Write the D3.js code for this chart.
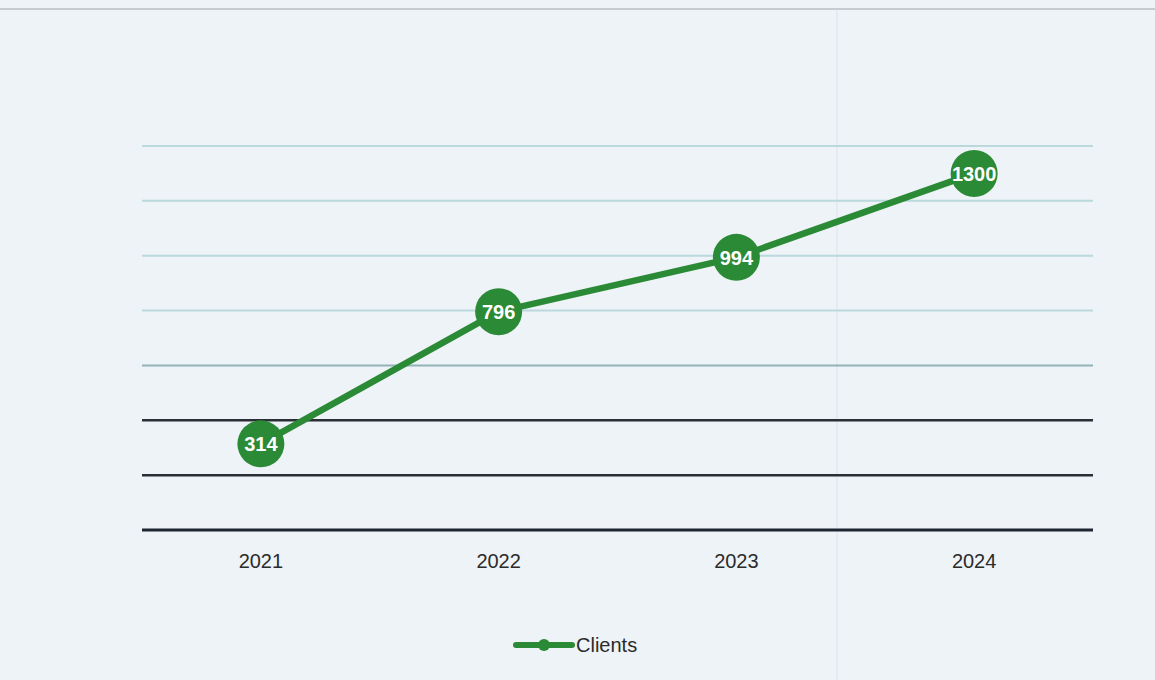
<!DOCTYPE html>
<html>
<head>
<meta charset="utf-8">
<script src="https://cdn.jsdelivr.net/npm/d3@7"></script>
<style>
  html, body { margin: 0; padding: 0; background: #eef3f7; }
  svg { display: block; }
</style>
</head>
<body>
<svg id="chart" width="1155" height="680"></svg>
<script>
const categories = ["2021", "2022", "2023", "2024"];
const clients = [314, 796, 994, 1300];
const seriesName = "Clients";
const yTicks = [0, 200, 400, 600, 800, 1000, 1200, 1400];

const W = 1155, H = 680;
const svg = d3.select("#chart");

// paper background
svg.append("rect").attr("width", W).attr("height", H).attr("fill", "#eef3f7");
svg.append("line").attr("x1", 0).attr("x2", W).attr("y1", 9).attr("y2", 9)
  .attr("stroke", "#b9bec3").attr("stroke-width", 1.5);
svg.append("line").attr("x1", 837).attr("x2", 837).attr("y1", 10).attr("y2", 680)
  .attr("stroke", "#e2e8ee").attr("stroke-width", 1.5);

const x = d3.scaleBand().domain(categories).range([142, 1093]);
const y = d3.scaleLinear().domain([0, 1400]).range([530, 146]);

// gridlines (scan shows top lines faint teal, lower ones dark)
const gridColor = v => v === 0 ? "#1f2633" : v <= 400 ? "#2a2f36" : v === 600 ? "#8fb3b6" : "#b9d9dc";
const gridWidth = v => v === 0 ? 3.2 : v <= 400 ? 2.5 : 2;
svg.append("g").selectAll("line").data(yTicks).join("line")
  .attr("x1", 142).attr("x2", 1093)
  .attr("y1", d => y(d)).attr("y2", d => y(d))
  .attr("stroke", gridColor).attr("stroke-width", gridWidth);

// x axis labels
const xAxis = d3.axisBottom(x).tickSize(0).tickPadding(24);
const gx = svg.append("g").attr("transform", "translate(0,530)").call(xAxis);
gx.select(".domain").remove();
gx.selectAll("text").attr("font-family", "Liberation Sans, Arial, sans-serif")
  .attr("font-size", 20).attr("fill", "#2b2b2b");

const green = "#2a8a35";
const line = d3.line().x((d, i) => x(categories[i]) + x.bandwidth() / 2).y(d => y(d));
svg.append("path").datum(clients).attr("d", line)
  .attr("fill", "none").attr("stroke", green).attr("stroke-width", 6.5)
  .attr("stroke-linejoin", "round");

const pts = svg.append("g").selectAll("g").data(clients).join("g")
  .attr("transform", (d, i) => `translate(${x(categories[i]) + x.bandwidth() / 2},${y(d)})`);
pts.append("circle").attr("r", 23.5).attr("fill", green);
pts.append("text").text(d => d)
  .attr("text-anchor", "middle").attr("dy", "0.36em")
  .attr("font-family", "Liberation Sans, Arial, sans-serif")
  .attr("font-size", 20).attr("font-weight", "bold").attr("fill", "#ffffff");

// legend
const lg = svg.append("g").attr("transform", "translate(516,645)");
lg.append("line").attr("x1", 0).attr("x2", 56).attr("y1", 0).attr("y2", 0)
  .attr("stroke", green).attr("stroke-width", 6).attr("stroke-linecap", "round");
lg.append("circle").attr("cx", 28).attr("cy", 0).attr("r", 6).attr("fill", green);
lg.append("text").text(seriesName).attr("x", 60).attr("dy", "0.35em")
  .attr("font-family", "Liberation Sans, Arial, sans-serif")
  .attr("font-size", 20).attr("fill", "#2b2b2b");
</script>
</body>
</html>
